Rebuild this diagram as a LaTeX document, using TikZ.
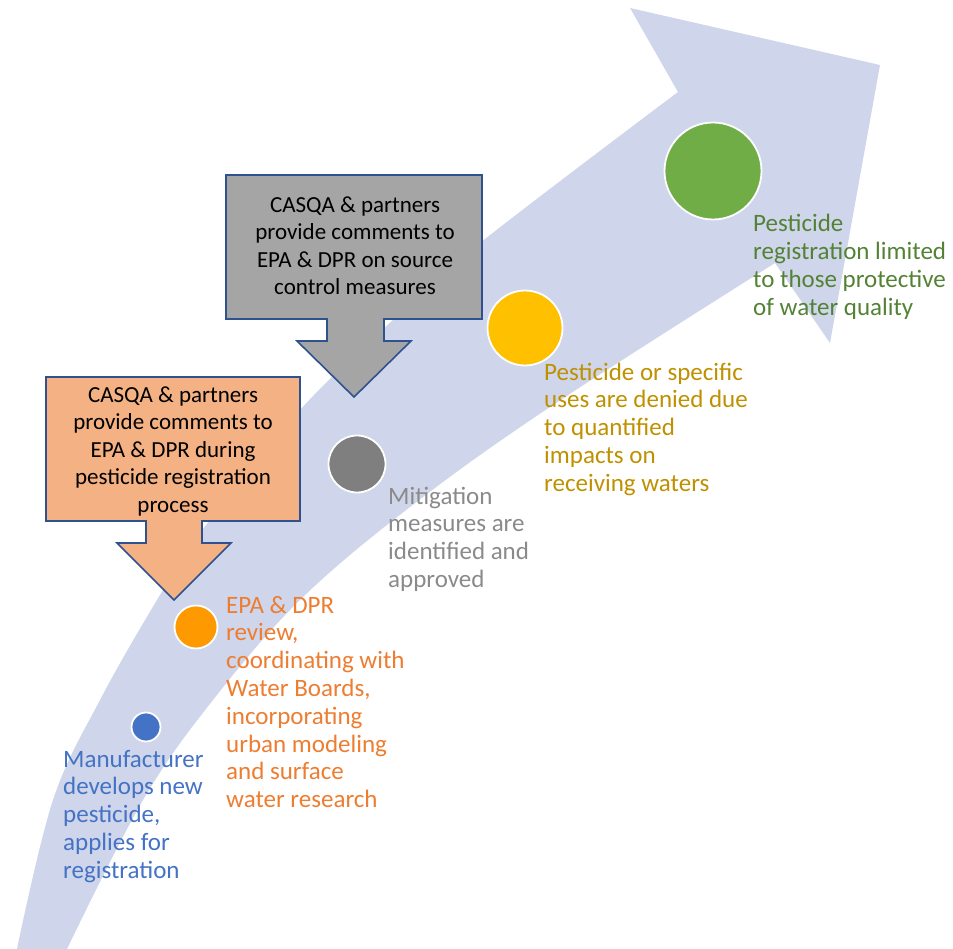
\documentclass[tikz,border=0pt]{standalone}
\usepackage{fontspec}
\setmainfont{Carlito}
\definecolor{bandc}{HTML}{CFD5EA}
\definecolor{outl}{HTML}{2F528F}
\definecolor{orangefill}{HTML}{F4B183}
\definecolor{grayfill}{HTML}{A5A5A5}
\definecolor{greenc}{HTML}{70AD47}
\definecolor{greent}{HTML}{548235}
\definecolor{yellowc}{HTML}{FFC000}
\definecolor{yellowt}{HTML}{BF9000}
\definecolor{grayc}{HTML}{7F7F7F}
\definecolor{grayt}{HTML}{8A8A8A}
\definecolor{orangec}{HTML}{FF9900}
\definecolor{oranget}{HTML}{ED7D31}
\definecolor{bluec}{HTML}{4472C4}
\tikzset{
  dot/.style={circle, draw=white, line width=1.8pt, inner sep=0pt},
  lbl/.style={anchor=base west, align=left, inner sep=0pt, font=\fontsize{25}{27.8}\selectfont},
  callout/.style={draw=outl, line width=1.6pt, line join=miter},
  boxtext/.style={anchor=base, align=center, inner sep=0pt, font=\fontsize{23}{27.6}\selectfont, text=black}
}
\begin{document}
\begin{tikzpicture}[x=1pt,y=-1pt]
\useasboundingbox (0,0) rectangle (953,949);
% curved arrow band
\fill[bandc] plot[smooth, tension=0.6] coordinates {(17,949) (53,800) (100,700) (157,600) (200,533) (300,410) (393,320) (480,243) (678,92)}
  -- (630,8) -- (880,65) -- (830,343)
  -- plot[smooth, tension=0.6] coordinates {(775,263) (550,407) (410,507) (300,600) (213,700) (143,800) (67,949)} -- cycle;
% circles
\node[dot, fill=greenc, minimum size=97pt] (green) at (713,171) {};
\node[dot, fill=yellowc, minimum size=75pt] (yellow) at (525,328) {};
\node[dot, fill=grayc, minimum size=57pt] (gray) at (357,464) {};
\node[dot, fill=orangec, minimum size=43pt] (orange) at (196,627) {};
\node[dot, fill=bluec, minimum size=29pt] (blue) at (146,727) {};
% gray callout
\filldraw[callout, fill=grayfill] (226,175) -- (482,175) -- (482,319) -- (384,319) -- (384,341) -- (411,341) -- (354,397) -- (297,341) -- (327,341) -- (327,319) -- (226,319) -- cycle;
\node[boxtext] (graytext) at (355,295) {CASQA \& partners\\provide comments to\\EPA \& DPR on source\\control measures};
% orange callout
\filldraw[callout, fill=orangefill] (46,377) -- (300,377) -- (300,521) -- (202,521) -- (202,543) -- (231,543) -- (174,600) -- (117,543) -- (146,543) -- (146,521) -- (46,521) -- cycle;
\node[boxtext] (orangetext) at (173,512.5) {CASQA \& partners\\provide comments to\\EPA \& DPR during\\pesticide registration\\process};
% labels
\node[lbl, text=greent] (greenlbl) at (753,315.4) {Pesticide\\registration limited\\to those protective\\of water quality};
\node[lbl, text=yellowt] (yellowlbl) at (544,491.2) {Pesticide or specific\\uses are denied due\\to quantified\\impacts on\\receiving waters};
\node[lbl, text=grayt] (graylbl) at (388,587.4) {Mitigation\\measures are\\identified and\\approved};
\node[lbl, text=oranget] (orangelbl) at (226,807.6) {EPA \& DPR\\review,\\coordinating with\\Water Boards,\\incorporating\\urban modeling\\and surface\\water research};
\node[lbl, text=bluec] (bluelbl) at (63,878.2) {Manufacturer\\develops new\\pesticide,\\applies for\\registration};
\end{tikzpicture}
\end{document}
